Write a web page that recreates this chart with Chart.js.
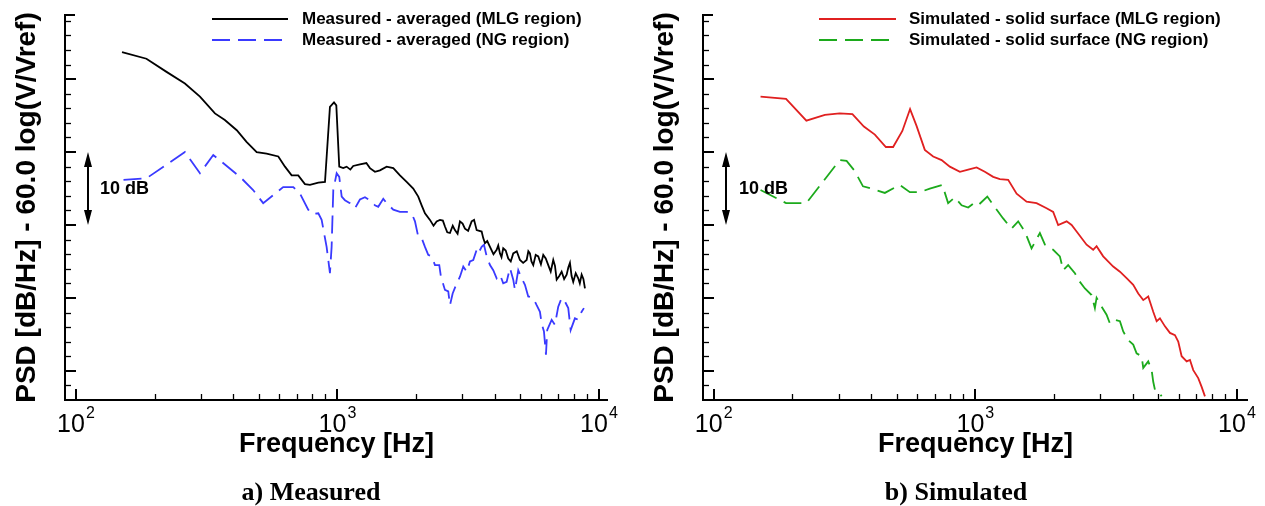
<!DOCTYPE html>
<html>
<head>
<meta charset="utf-8">
<script src="https://cdn.jsdelivr.net/npm/chart.js@4.4.1/dist/chart.umd.min.js"></script>
<style>
  body { margin: 0; background: #fff; }
  .page { position: relative; width: 1265px; height: 506px; overflow: hidden; }
  .panel { position: absolute; top: 0; height: 506px; }
  .caption {
    position: absolute; top: 477px; line-height: 30px;
    font: bold 26px "Liberation Serif", "Times New Roman", serif;
    transform: translateX(-50%); white-space: nowrap; color: #000;
  }
</style>
</head>
<body>
<div class="page">
  <div class="panel" style="left:0;width:632px"><canvas id="psd-measured-chart"></canvas></div>
  <div class="panel" style="left:638px;width:627px"><canvas id="psd-simulated-chart"></canvas></div>
  <div class="caption" style="left:311px">a) Measured</div>
  <div class="caption" style="left:956px">b) Simulated</div>
</div>
<script>
// frequency axis
const freqMajorTicks = [100, 1000, 10000];
const freqTickBase = '10';
const freqTickExponents = ['2', '3', '4'];
const freqMinorTicks = [200, 300, 400, 500, 600, 700, 800, 900, 2000, 3000, 4000, 5000, 6000, 7000, 8000, 9000];

// PSD axis (no labels in the figure, 10 dB per major tick)
const psdMajorTicks = [0, 10, 20, 30, 40];
const psdMinorTicks = [-2, 2, 4, 6, 8, 12, 14, 16, 18, 22, 24, 26, 28, 32, 34, 36, 38, 42, 44, 46, 48];

// a) measured - MLG region
const measuredMlgFreq = [150, 186, 222, 261, 298, 340, 371, 412, 449, 491, 536, 594, 630, 668, 708, 751, 785, 845, 896, 936,
    970, 990, 1016, 1052, 1084, 1120, 1149, 1219, 1290, 1331, 1391, 1454, 1542, 1635, 1734, 1839, 1949, 2037, 2099, 2161,
    2258, 2330, 2395, 2466, 2530, 2577, 2630, 2693, 2760, 2814, 2880, 2941, 3010, 3073, 3160, 3260, 3330, 3407, 3560, 3610,
    3665, 3740, 3831, 3950, 4063, 4120, 4183, 4240, 4305, 4400, 4500, 4600, 4702, 4850, 4988, 5130, 5291, 5370, 5446, 5520,
    5608, 5730, 5861, 6000, 6124, 6260, 6400, 6540, 6688, 6790, 6891, 7050, 7201, 7360, 7525, 7640, 7746, 7860, 7974, 8150,
    8333, 8450, 8587, 8720, 8841];
const measuredMlgPsd = [43.7, 42.8, 41.0, 39.4, 37.6, 35.3, 34.4, 33.0, 31.4, 30.0, 29.8, 29.4, 28.0, 26.8, 26.8, 25.6, 25.5, 25.8, 25.9, 36.2,
    36.8, 36.4, 28.0, 27.8, 28.0, 27.6, 28.1, 28.3, 28.5, 27.8, 27.3, 27.5, 28.0, 27.8, 26.8, 25.9, 25.0, 23.9, 22.7, 21.6,
    20.7, 19.9, 20.5, 20.7, 20.6, 19.8, 19.0, 18.9, 19.9, 19.3, 18.8, 20.5, 20.2, 19.5, 19.2, 20.5, 20.7, 19.3, 19.1, 18.2,
    17.5, 17.8, 17.0, 16.0, 16.6, 17.2, 16.1, 15.6, 16.8, 16.5, 15.4, 15.0, 16.1, 16.4, 15.2, 14.8, 15.2, 16.4, 16.1, 15.0,
    14.5, 15.9, 15.7, 14.6, 15.9, 15.4, 14.5, 13.6, 15.2, 14.4, 12.5, 13.0, 13.6, 12.6, 13.2, 14.2, 14.8, 13.0, 12.2, 13.4,
    12.7, 12.0, 13.2, 12.6, 11.3];

// a) measured - NG region
const measuredNgFreq = [152, 186, 261, 298, 335, 424, 476, 520, 620, 678, 719, 773, 800, 845, 870, 909, 936, 950, 964, 993,
    1016, 1038, 1068, 1116, 1167, 1219, 1274, 1331, 1391, 1432, 1497, 1542, 1635, 1734, 1839, 1922, 1979, 2037, 2099, 2161,
    2224, 2292, 2360, 2451, 2488, 2577, 2653, 2693, 2758, 2857, 2941, 3028, 3120, 3212, 3306, 3407, 3455, 3560, 3633, 3721,
    3831, 3943, 4063, 4183, 4305, 4436, 4567, 4702, 4773, 4914, 5063, 5212, 5365, 5608, 5778, 5948, 6038, 6162, 6271, 6343,
    6593, 6787, 6988, 7201, 7413, 7632, 7795, 8094, 8333, 8587, 8762];
const measuredNgPsd = [26.2, 26.4, 30.0, 27.1, 29.6, 26.6, 24.8, 23.0, 25.2, 25.2, 24.3, 22.1, 21.5, 21.6, 20.7, 17.0, 13.4, 17.0, 24.8, 27.1,
    26.6, 23.9, 23.4, 23.0, 22.3, 23.5, 23.8, 23.4, 22.7, 22.5, 23.6, 23.0, 22.1, 21.8, 21.8, 21.6, 20.5, 18.4, 18.2, 17.0,
    15.9, 15.7, 14.5, 14.5, 12.9, 11.1, 10.9, 9.0, 10.6, 12.0, 12.9, 14.3, 13.6, 15.0, 15.2, 16.6, 16.1, 17.0, 17.3, 15.7,
    14.5, 13.8, 12.7, 13.2, 12.0, 12.2, 14.1, 12.5, 11.1, 13.8, 12.7, 11.8, 10.2, 10.0, 9.0, 8.1, 6.5, 5.4, 2.2, 5.6,
    7.0, 6.3, 8.8, 10.0, 9.5, 8.6, 5.6, 7.2, 7.0, 8.1, 8.6];

// b) simulated - MLG region
const simulatedMlgFreq = [151, 189, 226, 266, 303, 339, 375, 413, 455, 485, 526, 563, 596, 641, 690, 743, 799, 873, 939, 1011,
    1087, 1170, 1241, 1335, 1438, 1570, 1714, 1872, 1984, 2073, 2233, 2333, 2438, 2662, 2821, 2907, 3081, 3365, 3570, 3786,
    4013, 4194, 4383, 4580, 4786, 4932, 5077, 5306, 5544, 5794, 5964, 6145, 6423, 6613, 6807, 7112, 7328, 7544];
const simulatedMlgPsd = [37.6, 37.3, 34.3, 35.1, 35.3, 35.2, 33.5, 32.4, 30.7, 30.7, 32.9, 35.9, 33.6, 30.3, 29.4, 28.9, 28.0, 27.3, 27.6, 27.9,
    27.3, 26.6, 26.3, 26.2, 24.3, 23.2, 23.0, 22.3, 21.8, 20.0, 20.5, 20.0, 19.1, 17.3, 16.6, 17.1, 15.7, 14.3, 13.6, 12.7,
    11.8, 10.6, 9.7, 10.2, 8.1, 6.8, 7.2, 6.1, 5.2, 4.9, 4.0, 2.0, 1.3, 1.5, 0.1, -1.0, -2.2, -3.5];

// b) simulated - NG region
const simulatedNgFreq = [151, 189, 226, 303, 322, 346, 372, 409, 451, 514, 562, 614, 670, 748, 787, 835, 886, 939, 987, 1025,
    1111, 1196, 1277, 1375, 1458, 1546, 1640, 1765, 1845, 1984, 2104, 2167, 2264, 2402, 2473, 2623, 2782, 2864, 2907, 3038,
    3174, 3268, 3416, 3570, 3675, 3841, 4013, 4134, 4320, 4383, 4580, 4719, 4786, 4858, 5001, 5152];
const simulatedNgPsd = [24.8, 23.0, 23.0, 28.9, 28.8, 27.4, 25.3, 24.9, 24.4, 25.5, 24.5, 24.5, 25.0, 25.5, 23.0, 23.8, 22.7, 22.4, 23.0, 22.7,
    23.9, 22.3, 20.9, 19.5, 20.5, 19.1, 16.8, 18.9, 17.3, 16.6, 15.7, 13.8, 14.5, 13.4, 12.5, 11.3, 10.4, 8.6, 10.0, 8.8,
    7.7, 6.5, 7.0, 6.8, 5.4, 4.2, 3.6, 2.4, 2.0, 0.4, 1.3, 0.1, -1.5, -2.6, -2.8, -3.5];

Chart.defaults.font.family = "'Liberation Sans', Arial, sans-serif";
Chart.defaults.color = '#000';

// axis lines + inward tick marks + 10^n labels, tecplot style
const psdAxesPlugin = {
    id: 'psdAxes',
    afterDraw(chart) {
        const { ctx, chartArea: area, scales: { x, y } } = chart;
        const seg = (x1, y1, x2, y2, w) => {
            ctx.lineWidth = w;
            ctx.beginPath();
            ctx.moveTo(x1, y1);
            ctx.lineTo(x2, y2);
            ctx.stroke();
        };
        ctx.save();
        ctx.strokeStyle = '#000';
        freqMinorTicks.forEach(v => {
            const px = Math.round(x.getPixelForValue(v)) + 0.5;
            seg(px, area.bottom, px, area.bottom - 6, 1.3);
        });
        freqMajorTicks.forEach(v => {
            const px = Math.round(x.getPixelForValue(v));
            seg(px, area.bottom, px, area.bottom - 11, 2);
        });
        psdMinorTicks.forEach(v => {
            const py = Math.round(y.getPixelForValue(v)) + 0.5;
            seg(area.left, py, area.left + 6, py, 1.3);
        });
        psdMajorTicks.forEach(v => {
            const py = Math.round(y.getPixelForValue(v));
            seg(area.left, py, area.left + 11, py, 2);
        });
        seg(area.left, area.top, area.left + 10, area.top, 2);
        seg(area.left, area.top - 1, area.left, area.bottom + 1, 2);
        seg(area.left - 1, area.bottom, area.right, area.bottom, 2);

        // tick labels with a real superscript
        ctx.fillStyle = '#000';
        ctx.textBaseline = 'alphabetic';
        freqMajorTicks.forEach((v, i) => {
            const px = x.getPixelForValue(v);
            ctx.font = '25px "Liberation Sans", Arial, sans-serif';
            const wBase = ctx.measureText(freqTickBase).width;
            ctx.font = '16px "Liberation Sans", Arial, sans-serif';
            const wExp = ctx.measureText(freqTickExponents[i]).width;
            const start = px - (wBase + wExp + 1) / 2;
            ctx.font = '25px "Liberation Sans", Arial, sans-serif';
            ctx.fillText(freqTickBase, start, area.bottom + 32);
            ctx.font = '16px "Liberation Sans", Arial, sans-serif';
            ctx.fillText(freqTickExponents[i], start + wBase + 1, area.bottom + 18);
        });
        ctx.restore();
    }
};

const psdLegendPlugin = {
    id: 'psdLegend',
    afterDraw(chart, args, opts) {
        const { ctx } = chart;
        ctx.save();
        ctx.font = 'bold 17px "Liberation Sans", Arial, sans-serif';
        ctx.textBaseline = 'middle';
        chart.data.datasets.forEach((ds, i) => {
            const yy = opts.rows[i];
            ctx.strokeStyle = ds.borderColor;
            ctx.lineWidth = ds.borderWidth;
            ctx.setLineDash(ds.borderDash || []);
            ctx.beginPath();
            ctx.moveTo(opts.lineStart, yy);
            ctx.lineTo(opts.lineEnd, yy);
            ctx.stroke();
            ctx.setLineDash([]);
            ctx.fillStyle = '#000';
            ctx.fillText(ds.label, opts.textX, yy);
        });
        ctx.restore();
    }
};

// the "10 dB" double arrow
const scaleBarPlugin = {
    id: 'scaleBar',
    afterDatasetsDraw(chart, args, opts) {
        const { ctx, chartArea: area, scales: { y } } = chart;
        const px = area.left + opts.offsetX;
        const top = y.getPixelForValue(opts.to);
        const bot = y.getPixelForValue(opts.from);
        const head = 15;
        ctx.save();
        ctx.strokeStyle = '#000';
        ctx.fillStyle = '#000';
        ctx.lineWidth = 2;
        ctx.beginPath();
        ctx.moveTo(px, top + head - 2);
        ctx.lineTo(px, bot - head + 2);
        ctx.stroke();
        ctx.beginPath();
        ctx.moveTo(px, top);
        ctx.lineTo(px - 4, top + head);
        ctx.lineTo(px + 4, top + head);
        ctx.closePath();
        ctx.fill();
        ctx.beginPath();
        ctx.moveTo(px, bot);
        ctx.lineTo(px - 4, bot - head);
        ctx.lineTo(px + 4, bot - head);
        ctx.closePath();
        ctx.fill();
        ctx.font = 'bold 18px "Liberation Sans", Arial, sans-serif';
        ctx.textBaseline = 'middle';
        ctx.fillText(opts.label, area.left + opts.textOffsetX, (top + bot) / 2);
        ctx.restore();
    }
};

function series(label, freq, psd, color, dash) {
    return {
        label: label,
        data: freq.map((f, i) => ({ x: f, y: psd[i] })),
        borderColor: color,
        borderWidth: 1.8,
        borderDash: dash,
        pointRadius: 0,
        tension: 0,
        fill: false,
    };
}

function createPsdChart(canvasId, datasets, cfg) {
    const ctx = document.getElementById(canvasId)?.getContext('2d');
    if (!ctx) return;

    new Chart(ctx, {
        type: 'line',
        data: { datasets: datasets },
        options: {
            responsive: true,
            maintainAspectRatio: false,
            animation: false,
            events: [],
            layout: { padding: { top: 15, right: cfg.padRight, bottom: 0, left: 0 } },
            plugins: {
                legend: { display: false },
                tooltip: { enabled: false },
                psdLegend: cfg.legend,
                scaleBar: { offsetX: 23, textOffsetX: cfg.textOffsetX, from: 20, to: 30, label: '10 dB' },
            },
            scales: {
                x: {
                    type: 'logarithmic',
                    min: cfg.xMin,
                    max: cfg.xMax,
                    grid: { display: false },
                    border: { display: false },
                    afterFit: scale => { scale.height = 106; },
                    ticks: { display: false },
                    title: {
                        display: true,
                        text: 'Frequency [Hz]',
                        color: '#000',
                        font: { size: 27, weight: 'bold' },
                        padding: { top: 0, bottom: 45 }
                    }
                },
                y: {
                    type: 'linear',
                    min: -4,
                    max: 48.8,
                    grid: { display: false },
                    border: { display: false },
                    ticks: { display: false },
                    afterFit: scale => { scale.width = 65; },
                    title: {
                        display: true,
                        text: 'PSD [dB/Hz] - 60.0 log(V/Vref)',
                        color: '#000',
                        font: { size: 28, weight: 'bold' },
                        padding: { top: 10, bottom: 0 }
                    }
                }
            }
        },
        plugins: [psdAxesPlugin, psdLegendPlugin, scaleBarPlugin]
    });
}

createPsdChart('psd-measured-chart', [
    series('Measured - averaged (MLG region)', measuredMlgFreq, measuredMlgPsd, '#000000', []),
    series('Measured - averaged (NG region)', measuredNgFreq, measuredNgPsd, '#3a3aff', [18, 8]),
], {
    xMin: 90.8, xMax: 10830, padRight: 24, textOffsetX: 35,
    legend: { lineStart: 212, lineEnd: 288, textX: 302, rows: [19, 40] }
});

createPsdChart('psd-simulated-chart', [
    series('Simulated - solid surface (MLG region)', simulatedMlgFreq, simulatedMlgPsd, '#e02020', []),
    series('Simulated - solid surface (NG region)', simulatedNgFreq, simulatedNgPsd, '#1caa1c', [18, 8]),
], {
    xMin: 91.0, xMax: 11020, padRight: 17, textOffsetX: 36,
    legend: { lineStart: 181, lineEnd: 258, textX: 271, rows: [19, 40] }
});
</script>
</body>
</html>
